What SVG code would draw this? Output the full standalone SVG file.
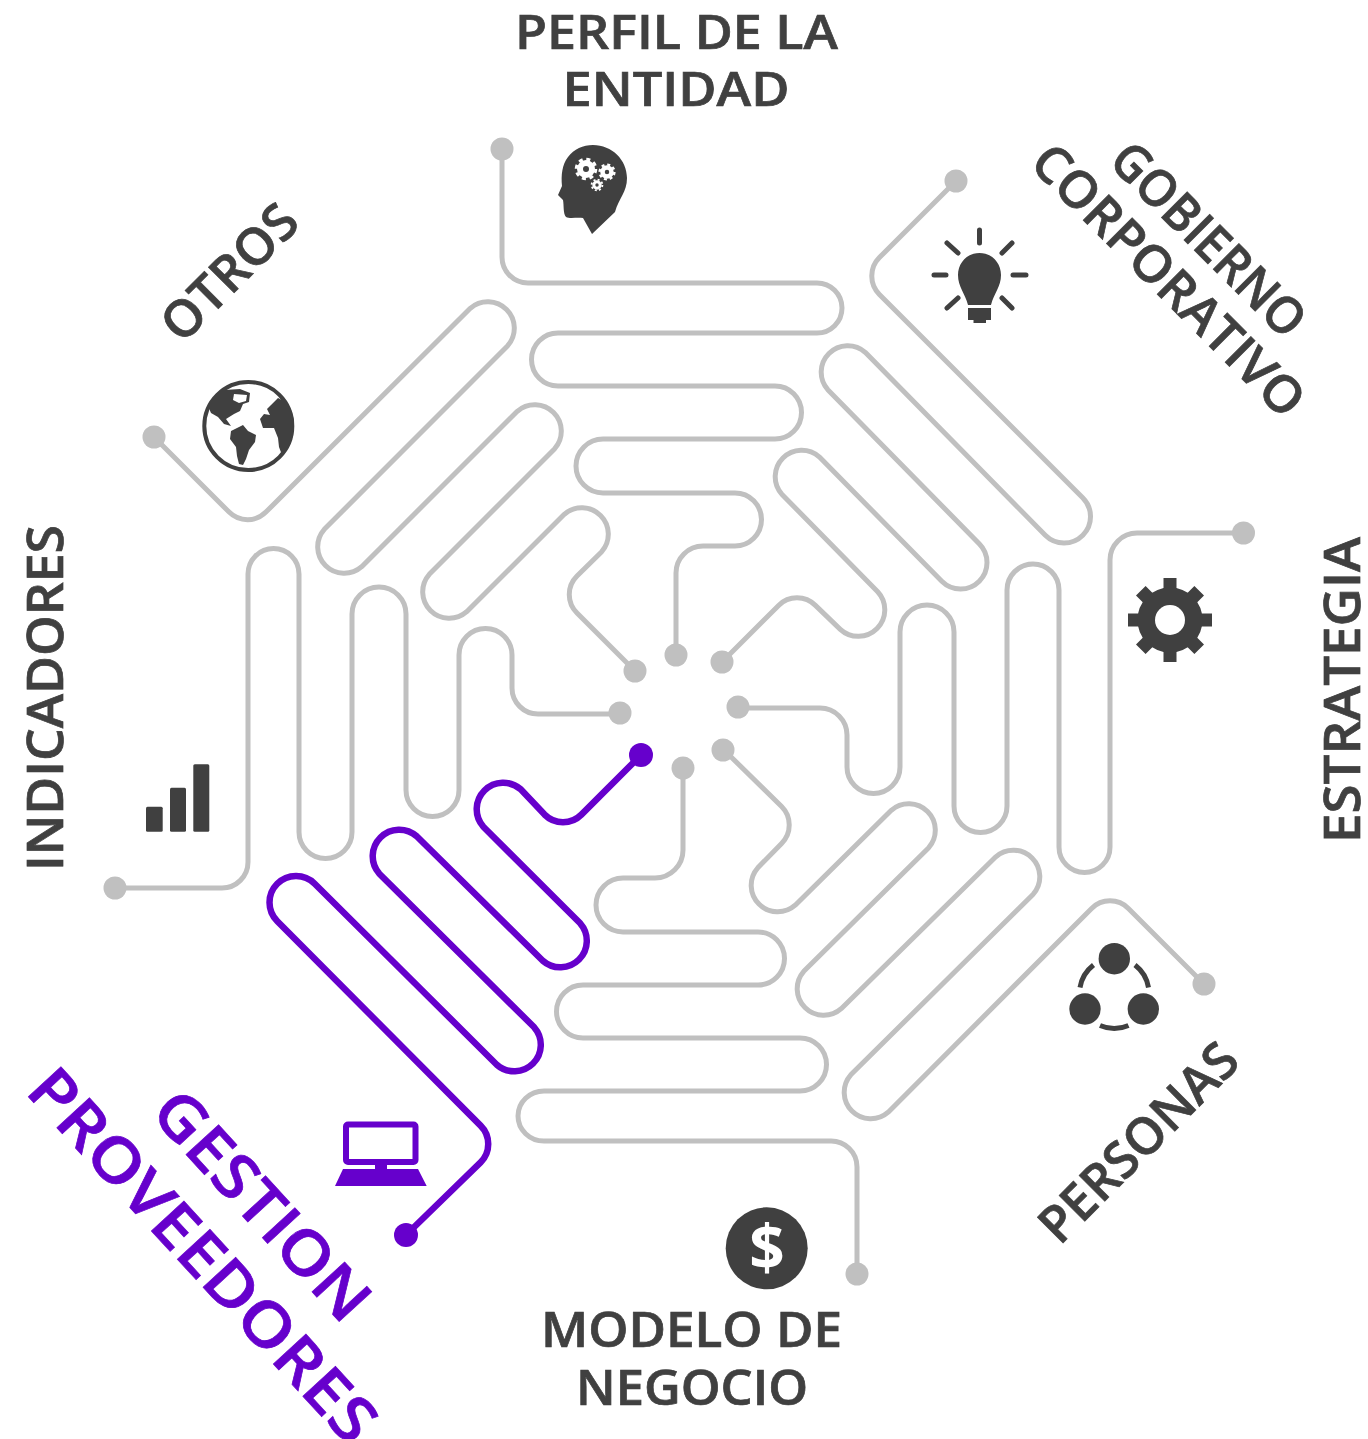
<svg xmlns="http://www.w3.org/2000/svg" width="1368" height="1439" viewBox="0 0 1368 1439">
<style>
.l{font-family:"Open Sans","Noto Sans","Liberation Sans",sans-serif;font-weight:600;fill:#404040;stroke:#404040;stroke-width:.7;text-anchor:middle}
.v{fill:#6600cc;stroke:#6600cc}
.p{fill:#6600cc}
.w{fill:none;stroke:#c0c0c0;stroke-width:5;stroke-linejoin:round}
.wp{fill:none;stroke:#6600cc;stroke-width:6.500;stroke-linejoin:round}
.d{fill:#c0c0c0}
.i{fill:#404040}
.r{fill:none;stroke:#404040;stroke-width:5;stroke-linecap:round}
</style>
<rect width="1368" height="1439" fill="#fff"/>
<g id="connectors">
<path class="w" d="M502 149V257A26 26 0 0 0 528 283H817A25 25 0 0 1 817 333H558A26.500 26.500 0 0 0 558 386H775A26.500 26.500 0 0 1 775 439H603A27 27 0 0 0 603 493H735A26.500 26.500 0 0 1 735 546H703A27 27 0 0 0 676 573V655"/>
<path class="w" d="M956 181L879.400 257.600A26 26 0 0 0 879.400 294.400L1082.700 497.700A26.500 26.500 0 0 1 1045.300 535.300L865.200 352.300A26.500 26.500 0 0 0 827.800 389.700L979.200 543.700A26.500 26.500 0 0 1 941.800 581.300L819.200 456.800A26.500 26.500 0 0 0 781.800 494.200L877.700 591.800A26.500 26.500 0 0 1 840.300 629.300L815.400 605.400A26 26 0 0 0 778.600 605.400L721 663"/>
<path class="w" d="M1243 533H1137A27 27 0 0 0 1110 560V847A25.500 25.500 0 0 1 1059 847V590A26 26 0 0 0 1007 590V806A26.500 26.500 0 0 1 954 806V632A27 27 0 0 0 900 632V767A26.500 26.500 0 0 1 847 767V735A27 27 0 0 0 820 708H738"/>
<path class="w" d="M1204 984L1128.400 908.400A26 26 0 0 0 1091.600 908.400L888.200 1112.200A26.500 26.500 0 0 1 850.800 1074.800L1033.200 894.200A26.500 26.500 0 0 0 995.800 856.800L841.200 1008.700A26.500 26.500 0 0 1 803.800 971.300L928.700 847.700A26.500 26.500 0 0 0 891.300 810.300L795.200 905.200A26.500 26.500 0 0 1 757.800 867.800L781.600 843.400A26 26 0 0 0 781.600 806.600L723 749"/>
<path class="w" d="M857 1274V1167A26 26 0 0 0 830 1141H544A26 25 0 0 1 544 1091H800A26.500 26.500 0 0 0 800 1038H583A26.500 26.500 0 0 1 583 985H758A26.500 26.500 0 0 0 758 932H623A27 27 0 0 1 623 878H655A28 28 0 0 0 683 850V768"/>
<path class="w" d="M115 888H222A26 26 0 0 0 248 862V574A25.500 25.500 0 0 1 299 574V832A26.500 26.500 0 0 0 352 832V614A27 27 0 0 1 406 614V790A26.500 26.500 0 0 0 459 790V655A26.500 26.500 0 0 1 512 655V688A26 26 0 0 0 538 714H620"/>
<path class="w" d="M154 437L229.100 512.100A26 26 0 0 0 265.900 512.100L470.300 308.300A26.500 26.500 0 0 1 507.700 345.700L324.300 529.300A26.500 26.500 0 0 0 361.700 566.700L517.300 411.300A26.500 26.500 0 0 1 554.700 448.700L429.300 574.300A26.500 26.500 0 0 0 466.700 611.700L564.300 514.300A26.500 26.500 0 0 1 601.700 551.700L577 576A26 26 0 0 0 577 613L635 671"/>
<path class="wp" d="M406 1235L480.600 1162.400A26 26 0 0 0 480.600 1125.600L277.300 921.300A26.500 26.500 0 0 1 314.700 883.700L496.800 1064.700A26.500 26.500 0 0 0 534.200 1027.300L379.300 873.700A26.500 26.500 0 0 1 416.700 836.300L542.800 960.700A26.500 26.500 0 0 0 580.200 923.300L483.300 826.700A26.500 26.500 0 0 1 520.700 789.300L544.600 814.600A26 26 0 0 0 581.400 814.600L641 755"/>
<g class="d">
<circle cx="502" cy="149" r="11.500"/><circle cx="676" cy="655" r="11.500"/>
<circle cx="956" cy="181" r="11.500"/><circle cx="722" cy="662" r="11.500"/>
<circle cx="1243.500" cy="533" r="11.500"/><circle cx="738" cy="707" r="11.500"/>
<circle cx="1204" cy="984" r="11.500"/><circle cx="723" cy="750" r="11.500"/>
<circle cx="857" cy="1274" r="11.500"/><circle cx="683" cy="768" r="11.500"/>
<circle cx="115" cy="888" r="11.500"/><circle cx="620" cy="713" r="11.500"/>
<circle cx="154" cy="437" r="11.500"/><circle cx="635" cy="671" r="11.500"/>
</g>
<circle class="p" cx="406" cy="1235" r="12"/><circle class="p" cx="641" cy="755" r="12"/>
</g>
<g id="perfil">
<text class="l" font-size="47" x="676.500" y="48.500" textLength="323" lengthAdjust="spacingAndGlyphs">PERFIL DE LA</text>
<text class="l" font-size="47" x="676" y="106" textLength="227" lengthAdjust="spacingAndGlyphs">ENTIDAD</text>
<path class="i" d="M593 145C612 145 627 160 627 178C627 192 619 198 615 212L592 234L583 218C577 217 570 219 566 217C563 214 564 205 563 200L558 195L562 186C561 175 562 165 568 157C574 149 583 145 593 145Z"/>
<g fill="none" stroke="#fff">
<circle cx="586" cy="169" r="6" stroke-width="6"/><circle cx="586" cy="169" r="9.800" stroke-width="3" stroke-dasharray="4 3.700"/>
<circle cx="607" cy="172" r="4.500" stroke-width="4.500"/><circle cx="607" cy="172" r="7.400" stroke-width="2.400" stroke-dasharray="3 2.810"/>
<circle cx="597" cy="185" r="3.200" stroke-width="3"/><circle cx="597" cy="185" r="5.400" stroke-width="1.800" stroke-dasharray="2 2.240"/>
</g>
</g>
<g id="gobierno">
<text class="l" font-size="51" transform="translate(1196 252) rotate(45)" textLength="252" lengthAdjust="spacingAndGlyphs">GOBIERNO</text>
<text class="l" font-size="51" transform="translate(1156 293) rotate(45)" textLength="362" lengthAdjust="spacingAndGlyphs">CORPORATIVO</text>
<path class="i" d="M979.500 253C967 253 958 263 958 275C958 287 965 293 968 305H991C994 293 1001 287 1001 275C1001 263 992 253 979.500 253Z"/>
<path class="i" d="M968 308H991V320H986V323H973.500V320H968Z"/>
<path class="r" d="M979.500 230V243M934 275H946M1013 275H1026M947 243L958 253M1012 243L1002 253M947 308L958 298M1012 308L1002 298"/>
</g>
<g id="estrategia">
<text class="l" font-size="50" transform="translate(1360 690) rotate(-90)" textLength="306" lengthAdjust="spacingAndGlyphs">ESTRATEGIA</text>
<g fill="#404040"><path d="M1163.500 578H1176.500V662H1163.500ZM1128 613.500H1212V626.500H1128Z"/><path d="M1145.600 586L1204 644.400L1194.400 654L1136 595.600ZM1194.400 586L1204 595.600L1145.600 654L1136 644.400Z"/></g>
<circle cx="1170" cy="620" r="23.500" fill="none" stroke="#404040" stroke-width="18"/>
<circle cx="1170" cy="620" r="15" fill="#fff"/>
</g>
<g id="personas">
<text class="l" font-size="51" transform="translate(1151 1155) rotate(-45)" textLength="258" lengthAdjust="spacingAndGlyphs">PERSONAS</text>
<circle class="i" cx="1114.300" cy="958.700" r="15.700"/><circle class="i" cx="1085" cy="1009" r="15.700"/><circle class="i" cx="1143.300" cy="1009" r="15.700"/>
<path fill="none" stroke="#404040" stroke-width="5" d="M1080 987.500A36 36 0 0 1 1093.500 965M1135 965A36 36 0 0 1 1148.500 987.500M1100 1025.500A36 36 0 0 0 1128.500 1025.500"/>
</g>
<g id="modelo">
<text class="l" font-size="48" x="691.500" y="1346.500" textLength="301" lengthAdjust="spacingAndGlyphs">MODELO DE</text>
<text class="l" font-size="48" x="692" y="1405" textLength="232" lengthAdjust="spacingAndGlyphs">NEGOCIO</text>
<circle class="i" cx="766.700" cy="1248.300" r="41"/>
<text class="l" font-size="62" x="767" y="1270" style="fill:#fff;stroke:none;font-weight:700">$</text>
</g>
<g id="gestion">
<text class="l v" font-size="62" transform="translate(246 1220) rotate(47.500)" textLength="288" lengthAdjust="spacingAndGlyphs">GESTION</text>
<text class="l v" font-size="62" transform="translate(24 1092) rotate(47.500)" textLength="482" lengthAdjust="spacingAndGlyphs" style="text-anchor:start">PROVEEDORES</text>
<rect x="346" y="1124.500" width="69.500" height="37.500" rx="2" fill="none" stroke="#6600cc" stroke-width="6"/>
<path class="p" d="M375 1165H387V1169H375ZM343 1169H418L426.700 1186H335Z"/>
</g>
<g id="indicadores">
<text class="l" font-size="50" transform="translate(63 698) rotate(-90)" textLength="346" lengthAdjust="spacingAndGlyphs">INDICADORES</text>
<rect class="i" x="146" y="806.700" width="16.700" height="25" rx="1.500"/><rect class="i" x="170" y="787.700" width="16" height="44" rx="1.500"/><rect class="i" x="193.300" y="764.300" width="16" height="67.400" rx="1.500"/>
</g>
<g id="otros">
<text class="l" font-size="51" transform="translate(242 285) rotate(-45)" textLength="170" lengthAdjust="spacingAndGlyphs">OTROS</text>
<circle cx="248.300" cy="426" r="44" fill="#fff" stroke="#404040" stroke-width="4"/>
<path class="i" d="M218 396L224 390L240 389L250 393L249 402L243 404L240 411L234 414L226 419L231 426L224 424L218 417L211 413L208 406L212 402Z"/>
<path fill="#fff" d="M234 394L247 395L246 401L239 403L233 400Z"/>
<path class="i" d="M231 431L243 425L248 431L256 435L255 442L249 450L246 459L243 465L239 464L237 456L236 447L230 439Z"/>
<path class="i" d="M260 419L264 414L270 415L267 409L271 405L278 398L284 401L291 410L294 420L293 436L287 447L282 455L279 447L278 438L274 428L263 428Z"/>
</g>
</svg>
